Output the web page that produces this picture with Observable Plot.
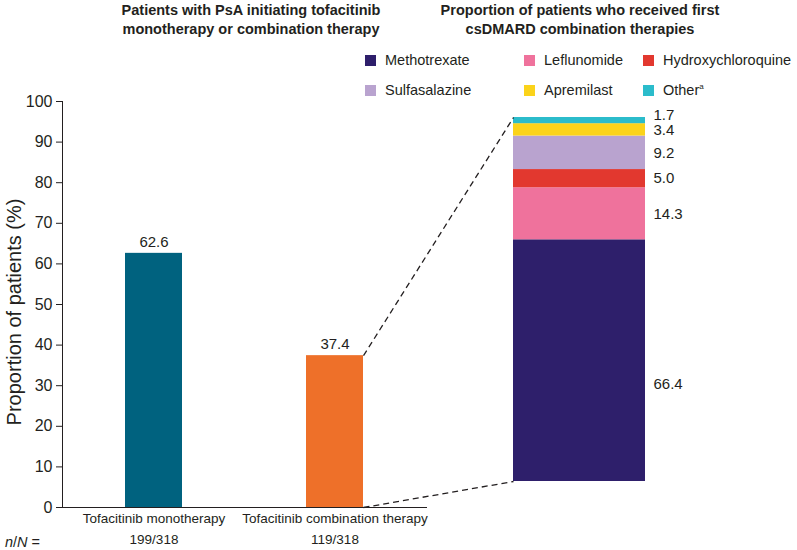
<!DOCTYPE html>
<html>
<head>
<meta charset="utf-8">
<script src="https://cdn.jsdelivr.net/npm/d3@7"></script>
<script src="https://cdn.jsdelivr.net/npm/@observablehq/plot@0.6"></script>
<style>
  html, body { margin: 0; padding: 0; background: #fff; }
  #wrap { position: relative; width: 797px; height: 550px; font-family: "Liberation Sans", Arial, Helvetica, sans-serif; color: #231f20; }
  #wrap svg { position: absolute; left: 0; top: 0; background: transparent; }
  .title { position: absolute; font-weight: bold; font-size: 14.5px; line-height: 19px; text-align: center; }
  .ylab { position: absolute; left: 14px; top: 312px; transform: translate(-50%, -50%) rotate(-90deg); font-size: 20px; white-space: nowrap; }
  .nn { position: absolute; left: 5px; top: 534px; font-size: 14.5px; line-height: 16px; }
  #legend { position: absolute; left: 365px; top: 45px; display: grid; grid-template-columns: 159px 119px auto; grid-auto-rows: 30px; font-size: 14.5px; }
  .li { display: flex; align-items: center; }
  .sw { width: 11px; height: 11px; margin-right: 9px; flex: none; }
  sup { font-size: 8px; vertical-align: 6px; }
</style>
</head>
<body>
<div id="wrap">
  <div class="title" style="left:51px;width:400px;top:1px">Patients with PsA initiating tofacitinib<br>monotherapy or combination therapy</div>
  <div class="title" style="left:380px;width:400px;top:1px">Proportion of patients who received first<br>csDMARD combination therapies</div>
  <div class="ylab">Proportion of patients (%)</div>
  <div class="nn"><i>n</i>/<i>N</i> =</div>
  <div id="legend"></div>
</div>
<script>
// Left chart data
const therapies = ["Tofacitinib monotherapy", "Tofacitinib combination therapy"];
const therapyPct = [62.6, 37.4];
const therapyN = ["199/318", "119/318"];
const therapyColors = ["#00627f", "#ee7029"];
const yTicks = [0, 10, 20, 30, 40, 50, 60, 70, 80, 90, 100];

// Right chart data (stacked, bottom to top)
const drugs = ["Methotrexate", "Leflunomide", "Hydroxychloroquine", "Sulfasalazine", "Apremilast", "Other"];
const drugPct = [66.4, 14.3, 5.0, 9.2, 3.4, 1.7];
const drugColors = ["#2e1f6b", "#ef729c", "#e2382f", "#b9a3cf", "#fbd31a", "#2bbccb"];
const legendOrder = ["Methotrexate", "Leflunomide", "Hydroxychloroquine", "Sulfasalazine", "Apremilast", "Other"];

const font = '"Liberation Sans", Arial, Helvetica, sans-serif';
const wrap = document.getElementById("wrap");

const left = therapies.map((t, i) => ({therapy: t, pct: therapyPct[i], n: therapyN[i]}));

const plotA = Plot.plot({
  width: 797, height: 550,
  marginLeft: 62, marginRight: 370, marginTop: 101, marginBottom: 43,
  style: {fontFamily: font, fontSize: "14px", color: "#231f20", background: "transparent"},
  x: {type: "band", domain: therapies, paddingInner: 0.685, paddingOuter: 0.35, axis: null},
  y: {domain: [0, 100], axis: null},
  color: {domain: therapies, range: therapyColors},
  marks: [
    Plot.barY(left, {x: "therapy", y: "pct", fill: "therapy"}),
    Plot.text(left, {x: "therapy", y: "pct", text: d => d.pct.toFixed(1), dy: -11, fontSize: 15, fill: "#231f20"}),
    Plot.axisY({ticks: yTicks, tickSize: 6, tickPadding: 4, label: null, fontSize: 16, color: "#231f20"}),
    Plot.axisX({tickSize: 0, tickPadding: 6, label: null, fontSize: 13.5, color: "#231f20"}),
    Plot.ruleY([0], {stroke: "#231f20"}),
    Plot.frame({anchor: "left", stroke: "#231f20"}),
    Plot.text(left, {x: "therapy", text: "n", frameAnchor: "bottom", dy: 36, fontSize: 13.5, fill: "#231f20"})
  ]
});
wrap.appendChild(plotA);

const right = drugs.map((d, i) => ({group: "Combination", drug: d, pct: drugPct[i], idx: i}));
const last = right.length - 1;
const segText = {x: "group", y: "pct", text: d => d.pct.toFixed(1), textAnchor: "start", dx: 74, fontSize: 15, fill: "#231f20"};

const plotB = Plot.plot({
  width: 797, height: 550,
  marginLeft: 513, marginRight: 152, marginTop: 117, marginBottom: 69,
  style: {fontFamily: font, fontSize: "14px", color: "#231f20", background: "transparent"},
  x: {type: "band", domain: ["Combination"], padding: 0, axis: null},
  y: {domain: [0, 100], axis: null},
  color: {domain: drugs, range: drugColors},
  marks: [
    Plot.barY(right, Plot.stackY({x: "group", y: "pct", fill: "drug"})),
    Plot.text(right, Plot.filter(d => d.idx > 0 && d.idx < last, Plot.stackY({...segText}))),
    Plot.text(right, Plot.filter(d => d.idx === 0, Plot.stackY({...segText, dy: 24}))),
    Plot.text(right, Plot.filter(d => d.idx === last, Plot.stackY({...segText, dy: -5})))
  ]
});
wrap.appendChild(plotB);

// connector lines computed from both charts' scales
const ax = plotA.scale("x"), ay = plotA.scale("y");
const bx = plotB.scale("x"), by = plotB.scale("y");
const barRight = ax.apply(therapies[1]) + ax.bandwidth;
const stackLeft = bx.apply("Combination");
const total = d3.sum(drugPct);
const links = [
  {x1: barRight, y1: ay.apply(therapyPct[1]), x2: stackLeft, y2: by.apply(total)},
  {x1: barRight, y1: ay.apply(0), x2: stackLeft, y2: by.apply(0)}
];
const plotC = Plot.plot({
  width: 797, height: 550, margin: 0,
  style: {background: "transparent"},
  x: {type: "identity"}, y: {type: "identity"},
  marks: [
    Plot.link(links, {x1: "x1", y1: "y1", x2: "x2", y2: "y2", stroke: "#231f20", strokeWidth: 1.3, strokeDasharray: "6,4"})
  ]
});
wrap.appendChild(plotC);

// legend
const legend = document.getElementById("legend");
legendOrder.forEach(name => {
  const i = drugs.indexOf(name);
  const item = document.createElement("div");
  item.className = "li";
  item.innerHTML = `<span class="sw" style="background:${drugColors[i]}"></span><span>${name}${name === "Other" ? "<sup>a</sup>" : ""}</span>`;
  legend.appendChild(item);
});
</script>
</body>
</html>
